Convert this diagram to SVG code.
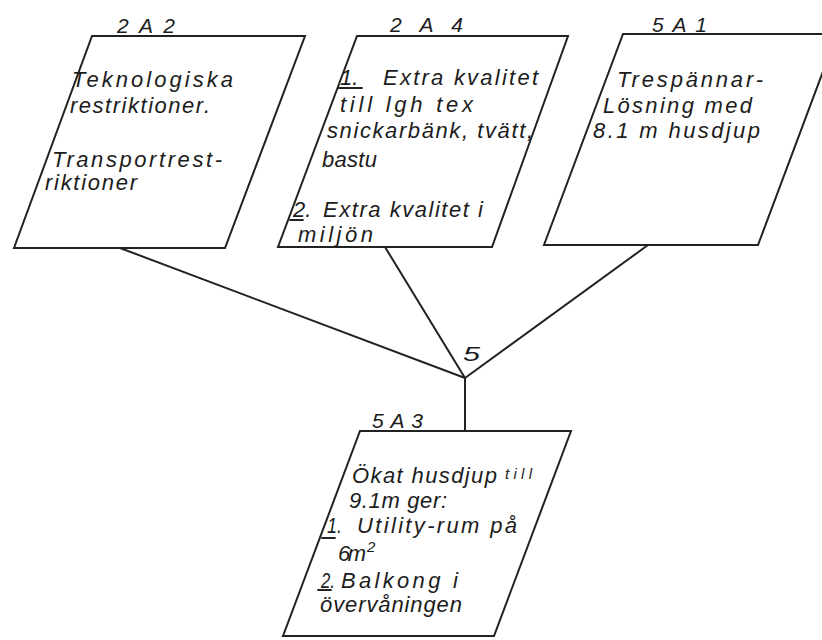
<svg xmlns="http://www.w3.org/2000/svg" width="822" height="640" viewBox="0 0 822 640">
  <style>
    .box { fill: #ffffff; stroke: #222; stroke-width: 2; stroke-linejoin: miter; }
    .wire { fill: none; stroke: #222; stroke-width: 2; stroke-linecap: round; }
    .mark { fill: none; stroke: #222; stroke-width: 1.8; stroke-linecap: round; }
    .t { font-family: "Liberation Sans", "DejaVu Sans", sans-serif; font-style: italic; font-size: 22px; fill: #1c1c1c; }
    .id { font-family: "Liberation Sans", "DejaVu Sans", sans-serif; font-style: italic; font-size: 21px; fill: #1c1c1c; }
    .small { font-size: 15px; }
  </style>
  <rect width="822" height="640" fill="#ffffff"/>

  <!-- connectors meeting at junction 5 -->
  <g id="connectors">
    <line class="wire" x1="120" y1="248" x2="465" y2="378"/>
    <line class="wire" x1="385" y1="247" x2="465" y2="378"/>
    <line class="wire" x1="648" y1="245" x2="465" y2="378"/>
    <line class="wire" x1="465" y1="378" x2="465" y2="431"/>
    <text class="id" x="463" y="361" textLength="17" lengthAdjust="spacingAndGlyphs">5</text>
  </g>

  <!-- 2A2 -->
  <g id="node-2A2">
    <polygon class="box" points="92,36 305,36 225,248 14,248"/>
    <text class="id" x="117" y="33" textLength="58">2A2</text>
    <text class="t" x="72" y="87" textLength="161">Teknologiska</text>
    <text class="t" x="70" y="113" textLength="140">restriktioner.</text>
    <text class="t" x="52" y="167" textLength="170">Transportrest-</text>
    <text class="t" x="45" y="190" textLength="92">riktioner</text>
  </g>

  <!-- 2A4 -->
  <g id="node-2A4">
    <polygon class="box" points="357,36 568,36 492,247 278,247"/>
    <text class="id" x="390" y="32" textLength="73">2A4</text>
    <text class="t" x="340" y="85">1.</text>
    <line class="mark" x1="338" y1="88" x2="362" y2="88"/>
    <text class="t" x="383" y="85" textLength="155">Extra kvalitet</text>
    <text class="t" x="340" y="112" textLength="133">till lgh tex</text>
    <text class="t" x="327" y="138" textLength="206">snickarbänk, tvätt,</text>
    <text class="t" x="322" y="167" textLength="55">bastu</text>
    <text class="t" x="293" y="217">2.</text>
    <line class="mark" x1="290" y1="220" x2="303" y2="220"/>
    <text class="t" x="323" y="217" textLength="160">Extra kvalitet i</text>
    <text class="t" x="298" y="242" textLength="75">miljön</text>
  </g>

  <!-- 5A1 -->
  <g id="node-5A1">
    <polygon class="box" points="623,34 837,34 758,245 544,245"/>
    <text class="id" x="652" y="32" textLength="55">5A1</text>
    <text class="t" x="617" y="87" textLength="146">Trespännar-</text>
    <text class="t" x="603" y="113" textLength="149">Lösning med</text>
    <text class="t" x="593" y="138" textLength="167">8.1 m husdjup</text>
  </g>

  <!-- 5A3 -->
  <g id="node-5A3">
    <polygon class="box" points="360,431 571,431 494,636 283,636"/>
    <text class="id" x="372" y="428" textLength="51">5A3</text>
    <text class="t" x="352" y="483" textLength="145">Ökat husdjup</text>
    <text class="t small" x="505" y="479" textLength="27">till</text>
    <text class="t" x="349" y="508" textLength="98">9.1m ger:</text>
    <text class="t" x="327" y="533" textLength="15" lengthAdjust="spacingAndGlyphs">1.</text>
    <line class="mark" x1="322" y1="538" x2="335" y2="538"/>
    <text class="t" x="357" y="533" textLength="160">Utility-rum på</text>
    <text class="t" x="338" y="561" textLength="28">6m</text>
    <text class="t small" x="367" y="552">2</text>
    <text class="t" x="321" y="588" textLength="14" lengthAdjust="spacingAndGlyphs">2.</text>
    <line class="mark" x1="318" y1="590" x2="331" y2="590"/>
    <text class="t" x="341" y="588" textLength="117">Balkong i</text>
    <text class="t" x="320" y="612" textLength="142">övervåningen</text>
  </g>
</svg>
